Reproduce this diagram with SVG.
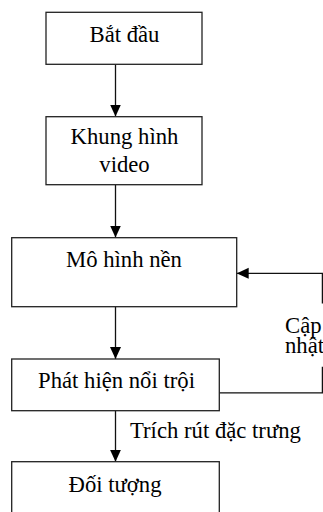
<svg xmlns="http://www.w3.org/2000/svg" width="323" height="512" viewBox="0 0 323 512">
<defs>
<marker id="arr" markerUnits="userSpaceOnUse" markerWidth="12" markerHeight="12" viewBox="0 0 12 11" refX="12" refY="5.5" orient="auto">
<path d="M0,0 L12,5.5 L0,11 Z" fill="#000"/>
</marker>
</defs>
<style>
rect{fill:#fff;stroke:#222;stroke-width:1.3}
text{font-family:"Liberation Serif","Times New Roman",serif;font-size:22.7px;fill:#000}
.c{text-anchor:middle}
.l{fill:none;stroke:#111;stroke-width:1.3}
</style>
<rect x="0" y="0" width="323" height="512" style="fill:#fff;stroke:none"/>
<g id="connectors">
<line class="l" x1="115.5" y1="64.5" x2="115.5" y2="116.5" marker-end="url(#arr)"/>
<line class="l" x1="115.5" y1="185" x2="115.5" y2="237.5" marker-end="url(#arr)"/>
<line class="l" x1="115.5" y1="306.5" x2="115.5" y2="359" marker-end="url(#arr)"/>
<line class="l" x1="115.5" y1="411" x2="115.5" y2="461.7" marker-end="url(#arr)"/>
<polyline class="l" points="219.3,392.8 322.4,392.8 322.4,366.7"/>
<polyline class="l" points="322.4,303.5 322.4,273.3 236.7,273.3" marker-end="url(#arr)"/>
<text x="285" y="333.3">Cập<tspan x="285" y="353.3">nhật</tspan></text>
<text x="130" y="438">Trích rút đặc trưng</text>
</g>
<g id="node-start">
<rect x="46" y="12.3" width="156" height="52"/>
<text class="c" x="124.5" y="41.7">Bắt đầu</text>
</g>
<g id="node-frame">
<rect x="46" y="116.7" width="156" height="68"/>
<text class="c" x="124.5" y="143.7">Khung hình</text>
<text class="c" x="124.5" y="171.5">video</text>
</g>
<g id="node-bg">
<rect x="11.7" y="237.7" width="225" height="69"/>
<text class="c" x="124" y="267.3">Mô hình nền</text>
</g>
<g id="node-detect">
<rect x="11.7" y="359" width="207.6" height="51.7"/>
<text class="c" x="116.5" y="387.5">Phát hiện nổi trội</text>
</g>
<g id="node-object">
<rect x="11.7" y="461.7" width="207.6" height="60"/>
<text class="c" x="115" y="491.5">Đối tượng</text>
</g>
</svg>
